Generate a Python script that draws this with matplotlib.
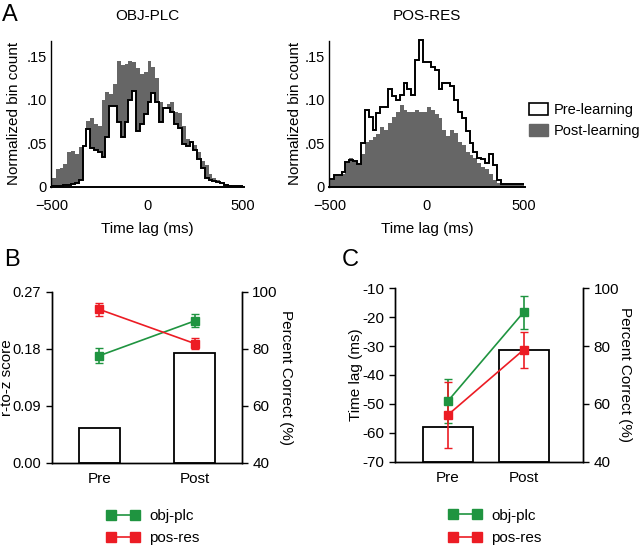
import numpy as np
import matplotlib
matplotlib.use("Agg")
import matplotlib.pyplot as plt
from matplotlib.patches import Patch
from matplotlib.lines import Line2D

plt.rcParams["font.family"] = ["Liberation Sans", "DejaVu Sans"]

# ---- panel A: cross-correlation histograms (20 ms bins, -500..500 ms) ----
bin_edges = np.linspace(-500, 500, 51)

objplc_pre = [0.001, 0.001, 0.001, 0.002, 0.002, 0.003, 0.004, 0.008, 0.047, 0.066,
              0.045, 0.042, 0.040, 0.034, 0.057, 0.093, 0.093, 0.074, 0.057, 0.075,
              0.100, 0.110, 0.064, 0.072, 0.084, 0.097, 0.108, 0.097, 0.074, 0.091,
              0.091, 0.086, 0.072, 0.068, 0.049, 0.047, 0.051, 0.042, 0.032, 0.022,
              0.010, 0.008, 0.007, 0.005, 0.004, 0.002, 0.001, 0.001, 0.001, 0.001]
objplc_post = [0.010, 0.020, 0.022, 0.026, 0.040, 0.041, 0.038, 0.046, 0.047, 0.076,
               0.079, 0.072, 0.070, 0.100, 0.109, 0.107, 0.118, 0.145, 0.140, 0.141,
               0.145, 0.143, 0.137, 0.130, 0.132, 0.145, 0.138, 0.125, 0.097, 0.091,
               0.095, 0.097, 0.086, 0.085, 0.070, 0.055, 0.052, 0.048, 0.040, 0.030,
               0.025, 0.015, 0.010, 0.008, 0.004, 0.003, 0.002, 0.001, 0.001, 0.001]

posres_pre = [0.009, 0.013, 0.013, 0.017, 0.029, 0.031, 0.030, 0.026, 0.050, 0.088,
              0.080, 0.065, 0.085, 0.092, 0.092, 0.113, 0.104, 0.100, 0.106, 0.119,
              0.112, 0.106, 0.146, 0.169, 0.144, 0.144, 0.138, 0.134, 0.112, 0.119,
              0.119, 0.116, 0.100, 0.086, 0.079, 0.064, 0.050, 0.040, 0.033, 0.032,
              0.027, 0.038, 0.025, 0.008, 0.003, 0.003, 0.003, 0.003, 0.003, 0.003]
posres_post = [0.008, 0.012, 0.012, 0.015, 0.027, 0.033, 0.029, 0.025, 0.038, 0.052,
               0.054, 0.057, 0.061, 0.069, 0.065, 0.073, 0.080, 0.086, 0.094, 0.088,
               0.086, 0.086, 0.088, 0.086, 0.086, 0.092, 0.088, 0.084, 0.079, 0.065,
               0.058, 0.065, 0.062, 0.052, 0.048, 0.040, 0.036, 0.033, 0.027, 0.023,
               0.020, 0.015, 0.008, 0.004, 0.003, 0.003, 0.003, 0.003, 0.003, 0.003]

# ---- panels B and C ----
phases = ["Pre", "Post"]
pct_correct = [52, 78.5]

rz_objplc = [0.169, 0.224]
rz_objplc_err = [0.012, 0.010]
rz_posres = [0.242, 0.188]
rz_posres_err = [0.010, 0.009]

lag_objplc = [-49.0, -18.3]
lag_objplc_err = [7.6, 5.8]
lag_posres = [-53.8, -31.3]
lag_posres_err = [11.5, 6.3]

GREEN = "#1f9440"
RED = "#ec1c24"
GRAY = "#666666"
LBL = 11

fig = plt.figure(figsize=(6.4, 5.48), dpi=100)


def hist_panel(rect, pre, post, pre_on_top, title, ylab_x):
    ax = fig.add_axes(rect)
    if pre_on_top:
        ax.stairs(post, bin_edges, fill=True, color=GRAY, zorder=1)
        ax.stairs(pre, bin_edges, fill=True, color="white", zorder=2)
    else:
        ax.stairs(pre, bin_edges, fill=True, color="white", zorder=1)
        ax.stairs(post, bin_edges, fill=True, color=GRAY, zorder=2)
    ax.stairs(pre, bin_edges, baseline=None, color="black", lw=1.4, zorder=3, clip_on=False)
    ax.set_xlim(-505, 505)
    ax.set_ylim(0, 0.168)
    ax.set_xticks([-500, 0, 500])
    ax.set_yticks([0, 0.05, 0.10, 0.15])
    ax.set_yticklabels(["0", ".05", ".10", ".15"])
    ax.tick_params(axis="y", length=0, labelsize=10.5, pad=3)
    ax.tick_params(axis="x", length=0, labelsize=10.5, pad=9)
    for s in ["top", "right"]:
        ax.spines[s].set_visible(False)
    ax.spines["left"].set_linewidth(1.0)
    ax.spines["bottom"].set_linewidth(1.4)
    ax.set_xlabel("Time lag (ms)", fontsize=LBL, labelpad=6)
    ax.set_ylabel("Normalized bin count", fontsize=LBL)
    ax.yaxis.set_label_coords(ylab_x, 0.5)
    ax.set_title(title, fontsize=11, pad=15)
    return ax


hist_panel([0.0797, 0.6593, 0.3016, 0.2664], objplc_pre, objplc_post, True, "OBJ-PLC", -0.155)
hist_panel([0.514, 0.6593, 0.306, 0.2664], posres_pre, posres_post, False, "POS-RES", -0.138)

fig.legend(handles=[Patch(facecolor="white", edgecolor="black", lw=1.2),
                    Patch(facecolor=GRAY, edgecolor=GRAY)],
           labels=["Pre-learning", "Post-learning"],
           loc="upper left", bbox_to_anchor=(0.818, 0.822), frameon=False,
           fontsize=10.5, handlelength=1.3, handleheight=0.9, handletextpad=0.4,
           labelspacing=0.45, borderaxespad=0)


def line_bar_panel(rect, xlim, barw, ylabel, yticks, yticklabels, ylim,
                   g, ge, r, re_, leg_x, ylab_x, rlab_pad, left_fs):
    ax = fig.add_axes(rect)
    ax2 = ax.twinx()
    x = np.arange(len(phases))
    ax2.bar(x, np.array(pct_correct) - 40, bottom=40, width=barw, facecolor="white",
            edgecolor="black", lw=1.3)
    ax2.set_ylim(40, 100)
    ax2.set_yticks([40, 60, 80, 100])
    ax2.set_ylabel("Percent Correct (%)", fontsize=LBL, rotation=270, labelpad=rlab_pad)
    ax.errorbar(x, g, yerr=ge, color=GREEN, marker="s", ms=6, mec=GREEN,
                lw=1.2, capsize=3, elinewidth=1.2)
    ax.errorbar(x, r, yerr=re_, color=RED, marker="s", ms=6, mec=RED,
                lw=1.2, capsize=3, elinewidth=1.2)
    ax.set_zorder(ax2.get_zorder() + 1)
    ax.patch.set_visible(False)
    ax.set_xlim(*xlim)
    ax.set_ylim(*ylim)
    ax.set_yticks(yticks)
    ax.set_yticklabels(yticklabels)
    ax.set_xticks(x)
    ax.set_xticklabels(phases)
    ax.set_ylabel(ylabel, fontsize=LBL)
    ax.yaxis.set_label_coords(ylab_x, 0.5)
    for a in (ax, ax2):
        a.spines["top"].set_visible(False)
        for s in ["left", "right", "bottom"]:
            a.spines[s].set_linewidth(1.0)
        a.tick_params(axis="y", direction="out", length=4, width=1.0, labelsize=11)
        a.tick_params(axis="x", length=0, labelsize=11, pad=7)
    ax.tick_params(axis="y", labelsize=left_fs)
    leg_handles = [Line2D([], [], color=GREEN, marker="s", ms=6.5, lw=1.2),
                   Line2D([], [], color=RED, marker="s", ms=6.5, lw=1.2)]
    ax.legend(leg_handles, ["obj-plc", "pos-res"], loc="upper left",
              bbox_to_anchor=(leg_x, -0.235), frameon=False, numpoints=2,
              handlelength=2.2, fontsize=11, labelspacing=0.55, borderaxespad=0,
              handletextpad=0.6)
    return ax


line_bar_panel([0.0808, 0.1557, 0.2969, 0.312], (-0.5, 1.49), 0.43,
               "r-to-z score", [0, 0.09, 0.18, 0.27],
               ["0.00", "0.09", "0.18", "0.27"], (0, 0.27),
               rz_objplc, rz_objplc_err, rz_posres, rz_posres_err, 0.255, -0.197, 11, 10.5)

line_bar_panel([0.6172, 0.1575, 0.2942, 0.3164], (-0.70, 1.79), 0.66,
               "Time lag (ms)", [-70, -60, -50, -40, -30, -20, -10],
               ["-70", "-60", "-50", "-40", "-30", "-20", "-10"], (-70, -10),
               lag_objplc, lag_objplc_err, lag_posres, lag_posres_err, 0.25, -0.17, 9, 11)

for letter, (px, py) in {"A": (2, 4), "B": (4, 249), "C": (342, 249)}.items():
    fig.text(px / 640, 1 - py / 548, letter, fontsize=17, va="top", ha="left")

fig.savefig("out.png", dpi=100)
